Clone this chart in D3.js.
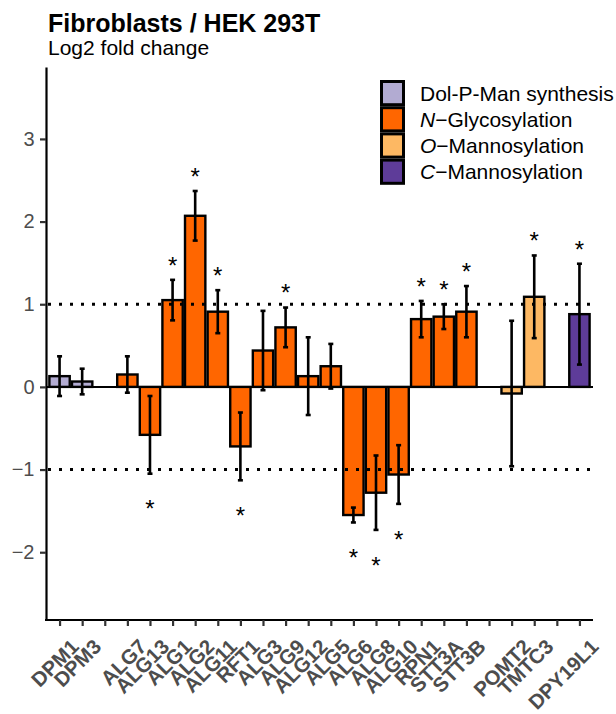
<!DOCTYPE html>
<html>
<head>
<meta charset="utf-8">
<script src="https://cdn.jsdelivr.net/npm/d3@7"></script>
<style>
  html, body { margin: 0; padding: 0; background: #ffffff; }
  svg { display: block; font-family: "Liberation Sans", Arial, Helvetica, sans-serif; }
</style>
</head>
<body>
<svg id="chart" width="616" height="714"></svg>
<script>
// ---------------- data ----------------
const slots = ["DPM1","DPM3","gap1","ALG7","ALG13","ALG1","ALG2","ALG11","RFT1","ALG3","ALG9","ALG12","ALG5","ALG6","ALG8","ALG10","RPN1","STT3A","STT3B","gap2","POMT2","TMTC3","gap3","DPY19L1"];
const genes = ["DPM1","DPM3","ALG7","ALG13","ALG1","ALG2","ALG11","RFT1","ALG3","ALG9","ALG12","ALG5","ALG6","ALG8","ALG10","RPN1","STT3A","STT3B","POMT2","TMTC3","DPY19L1"];
const log2fc = [0.13, 0.065, 0.15, -0.58, 1.05, 2.07, 0.91, -0.72, 0.44, 0.72, 0.13, 0.25, -1.55, -1.28, -1.06, 0.82, 0.85, 0.91, -0.08, 1.09, 0.88];
const errors = [0.24, 0.155, 0.22, 0.47, 0.245, 0.30, 0.26, 0.41, 0.48, 0.24, 0.47, 0.27, 0.09, 0.45, 0.355, 0.22, 0.15, 0.31, 0.88, 0.50, 0.61];
const pathway = ["dpm","dpm","n","n","n","n","n","n","n","n","n","n","n","n","n","n","n","n","o","o","c"];
const significant = [false,false,false,true,true,true,true,true,false,true,false,false,true,true,true,true,true,true,false,true,true];
const groupKeys = ["dpm","n","o","c"];
const groupItalic = ["", "N", "O", "C"];
const groupRest = ["Dol-P-Man synthesis", "\u2212Glycosylation", "\u2212Mannosylation", "\u2212Mannosylation"];
const groupColors = ["#B2ABD2", "#FF6600", "#FDB863", "#5E3C99"];
const yTicks = [-2, -1, 0, 1, 2, 3];
const refLines = [-1, 1];
const titleText = "Fibroblasts / HEK 293T";
const subtitleText = "Log2 fold change";

// ---------------- layout ----------------
const svg = d3.select("#chart");
const plotL = 46, plotR = 593, plotT = 67, plotB = 620;

const x = d3.scalePoint().domain(slots).range([plotL, plotR]).padding(0.6);
const y = d3.scaleLinear().domain([-2.82, 3.87]).range([plotB, plotT]);
const color = d3.scaleOrdinal().domain(groupKeys).range(groupColors);
const bw = x.step() * 0.9;

const rows = genes.map((g, i) => ({ gene: g, v: log2fc[i], e: errors[i], grp: pathway[i], sig: significant[i] }));

// bars
svg.append("g").selectAll("rect").data(rows).join("rect")
  .attr("x", d => x(d.gene) - bw / 2)
  .attr("y", d => y(Math.max(0, d.v)))
  .attr("width", bw)
  .attr("height", d => Math.abs(y(d.v) - y(0)))
  .attr("fill", d => color(d.grp))
  .attr("stroke", "#000")
  .attr("stroke-width", 2.4);

// zero line
svg.append("line")
  .attr("x1", plotL).attr("x2", plotR)
  .attr("y1", y(0)).attr("y2", y(0))
  .attr("stroke", "#000").attr("stroke-width", 2);

// dotted reference lines
svg.append("g").selectAll("line").data(refLines).join("line")
  .attr("x1", plotL + 2).attr("x2", plotR)
  .attr("y1", d => y(d)).attr("y2", d => y(d))
  .attr("stroke", "#000").attr("stroke-width", 3)
  .attr("stroke-dasharray", "3,8");

// error bars
const eb = svg.append("g").attr("stroke", "#000").attr("stroke-width", 2.6);
eb.selectAll("line.v").data(rows).join("line").attr("class", "v")
  .attr("x1", d => x(d.gene)).attr("x2", d => x(d.gene))
  .attr("y1", d => y(d.v + d.e)).attr("y2", d => y(d.v - d.e));
eb.selectAll("line.t").data(rows).join("line").attr("class", "t")
  .attr("x1", d => x(d.gene) - 2.5).attr("x2", d => x(d.gene) + 2.5)
  .attr("y1", d => y(d.v + d.e)).attr("y2", d => y(d.v + d.e));
eb.selectAll("line.b").data(rows).join("line").attr("class", "b")
  .attr("x1", d => x(d.gene) - 2.5).attr("x2", d => x(d.gene) + 2.5)
  .attr("y1", d => y(d.v - d.e)).attr("y2", d => y(d.v - d.e));

// asterisks
const astSize = 24;
svg.append("g").selectAll("text").data(rows.filter(d => d.sig)).join("text")
  .attr("x", d => x(d.gene))
  .attr("y", d => (d.v >= 0 ? y(d.v + d.e) - 20 : y(d.v - d.e) + 30) + 0.575 * astSize)
  .attr("text-anchor", "middle")
  .attr("font-size", astSize)
  .attr("fill", "#000")
  .text("*");

// y axis
const yAxis = svg.append("g").attr("transform", `translate(${plotL},0)`)
  .call(d3.axisLeft(y).tickValues(yTicks).tickSize(6).tickSizeOuter(0).tickPadding(5.5)
    .tickFormat(d => d < 0 ? "\u2212" + Math.abs(d) : String(d)));
yAxis.select(".domain").attr("stroke", "#000").attr("stroke-width", 2.2);
yAxis.selectAll(".tick line").attr("stroke", "#333").attr("stroke-width", 2.2);
yAxis.selectAll(".tick text").attr("font-size", 20).attr("fill", "#4D4D4D")
  .attr("font-family", "Liberation Sans, Arial, sans-serif");

// x axis
const xAxis = svg.append("g").attr("transform", `translate(0,${plotB})`)
  .call(d3.axisBottom(x).tickSize(6).tickSizeOuter(0)
    .tickFormat(d => d.startsWith("gap") ? "" : d));
xAxis.select(".domain").attr("stroke", "#000").attr("stroke-width", 2.2)
  .attr("d", `M${plotL - 1},0H${plotR}`);
xAxis.selectAll(".tick line").attr("stroke", "#333").attr("stroke-width", 2.2);
xAxis.selectAll(".tick text")
  .attr("x", 0).attr("y", 0).attr("dy", 0)
  .attr("text-anchor", "end")
  .attr("transform", "translate(20,28) rotate(-45)")
  .attr("font-size", 20.5).attr("font-weight", "bold").attr("fill", "#4D4D4D")
  .attr("font-family", "Liberation Sans, Arial, sans-serif");

// title / subtitle
svg.append("text").attr("x", 48).attr("y", 32)
  .attr("font-size", 25).attr("font-weight", "bold").attr("fill", "#000")
  .text(titleText);
svg.append("text").attr("x", 48).attr("y", 55)
  .attr("font-size", 21).attr("fill", "#000")
  .text(subtitleText);

// legend
const legend = svg.append("g").attr("transform", "translate(380,80)");
const keyH = 26.2, keyW = 25;
const li = legend.selectAll("g").data(groupKeys).join("g")
  .attr("transform", (d, i) => `translate(0,${i * keyH})`);
li.append("rect").attr("x", 1.5).attr("y", 1.5).attr("width", keyW - 3).attr("height", keyH - 3)
  .attr("fill", d => color(d)).attr("stroke", "#000").attr("stroke-width", 3);
const lt = li.append("text").attr("x", 40).attr("y", keyH / 2 + 7.4)
  .attr("font-size", 21).attr("fill", "#000");
lt.append("tspan").attr("font-style", "italic").text((d, i) => groupItalic[i]);
lt.append("tspan").text((d, i) => groupRest[i]);
</script>
</body>
</html>
